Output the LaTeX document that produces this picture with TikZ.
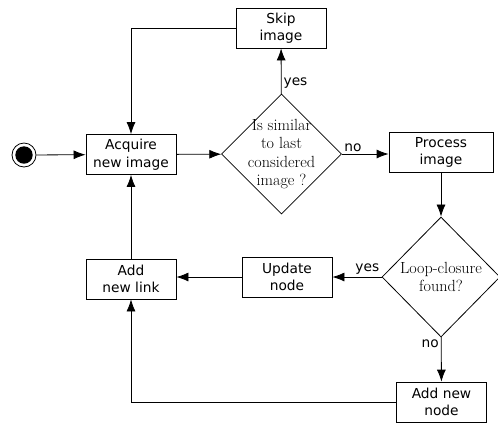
\documentclass[tikz,border=0pt]{standalone}
\usepackage{fontspec}
\usepackage{tikz}
\usetikzlibrary{shapes.geometric,arrows.meta}
\newfontfamily\boxfont{DejaVu Sans}

\begin{document}
\begin{tikzpicture}[x=1bp, y=-1bp, line width=0.8bp,
  stepbox/.style={draw, rectangle, minimum width=90bp, minimum height=40bp, inner sep=1bp, align=center, font=\boxfont\fontsize{13.8}{17.5}\selectfont},
  decision/.style={draw, diamond, minimum width=120bp, minimum height=120bp, inner sep=-12bp, align=center, font=\fontsize{16.2}{18.3}\selectfont},
  flow/.style={-{Latex[length=12bp,width=9bp]}},
  answer/.style={font=\boxfont\fontsize{13.8}{16}\selectfont, inner sep=2bp}]

\useasboundingbox (0,0) rectangle (498,424);

\node [draw, circle, minimum size=24bp, inner sep=0pt,
       path picture={\fill (path picture bounding box.center) circle (8.7bp);}] (start) at (24,155) {};

\node [stepbox] (acquire) at (131,154.5) {Acquire\\new image};
\node [decision] (similar) at (281.5,154) {Is similar\\to last\\considered\\image ?};
\node [stepbox] (skip) at (281,28) {Skip\\image};
\node [stepbox, minimum width=104bp] (process) at (441,152.5) {Process\\image};

% Second row
\node [decision, minimum width=118bp] (loop) at (441,277) {Loop-closure\\found?};
\node [stepbox] (update) at (287,277) {Update\\node};
\node [stepbox] (link) at (131,279) {Add\\new link};
\node [stepbox] (addnode) at (441.5,402) {Add new\\node};

\draw [flow] (start) -- (acquire);
\draw [flow] (acquire) -- (similar);
\draw [flow] (similar) -- node [answer, anchor=west, pos=0.24] {yes} (skip);
\draw [flow] (skip.west) -| (acquire.north);
\draw [flow] (similar) -- node [answer, anchor=south west, pos=0] {no} (similar.east -| process.west);
\draw [flow] (process) -- (loop);

% Back to the start
\draw [flow] (loop) -- node [answer, anchor=south east, pos=0] {yes} (update);
\draw [flow] (update) -- (update -| link.east);
\draw [flow] (link) -- (acquire);
\draw [flow] (loop) -- node [answer, anchor=north east, pos=0] {no} (addnode);
\draw [flow] (addnode.west) -| (link.south);

\end{tikzpicture}
\end{document}
